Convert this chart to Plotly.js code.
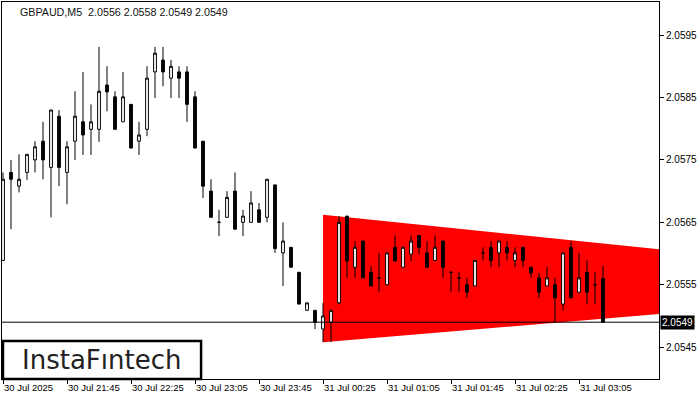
<!DOCTYPE html>
<html><head><meta charset="utf-8">
<script src="https://cdn.plot.ly/plotly-3.0.1.min.js"></script>
<style>html,body{margin:0;padding:0;background:#fff}#chart{width:700px;height:400px}</style>
</head><body><div id="chart"></div>
<script>
const headerText = "GBPAUD,M5\u00a0\u00a02.0556 2.0558 2.0549 2.0549";
const logoText = "InstaF\u0131ntech";
const lastPrice = 2.0549;
const lastPriceLabel = "2.0549";

const openP = [2.05589,2.05730,2.05708,2.05730,2.05750,2.05780,2.05738,2.05820,2.05730,2.05780,
2.05811,2.05799,2.05799,2.05870,2.05851,2.05811,2.05839,2.05780,2.05799,2.05891,
2.05910,2.05881,2.05891,2.05891,2.05851,2.05780,2.05700,2.05650,2.05658,2.05700,
2.05650,2.05650,2.05670,2.05658,2.05710,2.05601,2.05610,2.05570,2.05509,2.05509,
2.05479,2.05490,2.05521,2.05660,2.05578,2.05620,2.05570,2.05561,2.05550,2.05610,
2.05578,2.05599,2.05629,2.05601,2.05589,2.05620,2.05570,2.05561,2.05550,2.05548,
2.05601,2.05610,2.05601,2.05610,2.05589,2.05610,2.05578,2.05561,2.05548,2.05550,
2.05519,2.05610,2.05538,2.05570,2.05550,2.0556];
const highP = [2.05730,2.05750,2.05759,2.05759,2.05780,2.05811,2.05830,2.05830,2.05780,2.05860,
2.05891,2.05839,2.05931,2.05900,2.05860,2.05891,2.05839,2.05811,2.05900,2.05931,
2.05931,2.05910,2.05900,2.05900,2.05860,2.05780,2.05719,2.05670,2.05700,2.05730,
2.05670,2.05700,2.05681,2.05719,2.05710,2.05650,2.05610,2.05570,2.05521,2.05509,
2.05521,2.05509,2.05660,2.05660,2.05620,2.05620,2.05580,2.05601,2.05601,2.05629,
2.05610,2.05629,2.05629,2.05620,2.05629,2.05620,2.05570,2.05570,2.05561,2.05589,
2.05610,2.05620,2.05620,2.05620,2.05610,2.05610,2.05578,2.05569,2.05578,2.05561,
2.05601,2.05620,2.05601,2.05589,2.05570,2.0558];
const lowP = [2.05588,2.05639,2.05698,2.05718,2.05730,2.05719,2.05658,2.05708,2.05679,2.05750,
2.05758,2.05758,2.05779,2.05828,2.05799,2.05811,2.05769,2.05758,2.05788,2.05849,
2.05868,2.05849,2.05849,2.05811,2.05769,2.05689,2.05658,2.05628,2.05658,2.05639,
2.05628,2.05650,2.05650,2.05650,2.05601,2.05548,2.05578,2.05519,2.05509,2.05479,
2.05458,2.05458,2.05519,2.05561,2.05561,2.05561,2.05548,2.05538,2.05550,2.05588,
2.05578,2.05588,2.05599,2.05578,2.05589,2.05561,2.05538,2.05538,2.05529,2.05548,
2.05589,2.05578,2.05578,2.05589,2.05578,2.05578,2.05561,2.05529,2.05548,2.05490,
2.05509,2.05529,2.05538,2.05519,2.05519,2.0549];
const closeP = [2.05719,2.05719,2.05719,2.05759,2.05771,2.05750,2.05830,2.05738,2.05771,2.05820,
2.05790,2.05811,2.05860,2.05859,2.05799,2.05851,2.05769,2.05790,2.05881,2.05921,
2.05891,2.05900,2.05881,2.05839,2.05769,2.05708,2.05658,2.05650,2.05690,2.05639,
2.05660,2.05681,2.05650,2.05719,2.05608,2.05620,2.05578,2.05519,2.05521,2.05490,
2.05500,2.05509,2.05650,2.05588,2.05610,2.05561,2.05548,2.05561,2.05601,2.05588,
2.05610,2.05620,2.05610,2.05578,2.05610,2.05578,2.05570,2.05561,2.05538,2.05589,
2.05601,2.05589,2.05620,2.05601,2.05601,2.05589,2.05569,2.05538,2.05561,2.05529,
2.05601,2.05529,2.05561,2.05538,2.05550,2.0549];

const triTime = ["2025-07-31 00:25","2025-07-31 03:55","2025-07-31 03:55","2025-07-31 00:25"];
const triPrice = [2.05662,2.05607,2.05503,2.05458];

const tickTimes = ["2025-07-30 21:05","2025-07-30 21:45","2025-07-30 22:25","2025-07-30 23:05","2025-07-30 23:45",
"2025-07-31 00:25","2025-07-31 01:05","2025-07-31 01:45","2025-07-31 02:25","2025-07-31 03:05"];
const tickLabels = ["30 Jul 2025","30 Jul 21:45","30 Jul 22:25","30 Jul 23:05","30 Jul 23:45",
"31 Jul 00:25","31 Jul 01:05","31 Jul 01:45","31 Jul 02:25","31 Jul 03:05"];
const priceTicks = [2.0545,2.0555,2.0565,2.0575,2.0585,2.0595];

function barTime(i){
  const d = new Date(Date.UTC(2025,6,30,21,5) + i*5*60000);
  return d.toISOString().slice(0,16).replace('T',' ');
}
const times = openP.map((_,i)=>barTime(i));

// triangle path in data coordinates (dates use '_' instead of space inside a path)
const triPath = triTime.map((t,i)=>(i===0?'M':'L') + t.replace(' ','_') + ',' + triPrice[i]).join(' ') + ' Z';

const font = {family:"Liberation Sans, Arial, sans-serif", size:10, color:"#000"};
const xFont = {family:"Liberation Sans, Arial, sans-serif", size:9.5, color:"#000"};

const traces = [
  {type:'candlestick', x:times, open:openP, high:highP, low:lowP, close:closeP,
   increasing:{fillcolor:'#ffffff', line:{color:'#000000', width:1}},
   decreasing:{fillcolor:'#000000', line:{color:'#000000', width:1}},
   whiskerwidth:0, hoverinfo:'skip'}
];

const layout = {
  width:700, height:400,
  margin:{l:2, r:41, t:2, b:21},
  paper_bgcolor:'#ffffff', plot_bgcolor:'#ffffff',
  showlegend:false, boxgap:0.5,
  font:font,
  xaxis:{type:'date', range:["2025-07-30 21:04:22","2025-07-31 03:55"],
    tickmode:'array', tickvals:tickTimes, ticktext:tickLabels,
    ticks:'outside', ticklen:4, tickcolor:'#000', ticklabelposition:'outside right',
    showgrid:false, zeroline:false, showline:true, mirror:true, linecolor:'#000', linewidth:1,
    rangeslider:{visible:false}, tickfont:xFont, fixedrange:true},
  yaxis:{side:'right', range:[2.05399,2.06003], tickmode:'array', tickvals:priceTicks,
    tickformat:'.4f', ticks:'outside', ticklen:4, tickcolor:'#000',
    showgrid:false, zeroline:false, showline:true, mirror:true, linecolor:'#000', linewidth:1,
    tickfont:font, fixedrange:true},
  shapes:[
    {type:'path', xref:'x', yref:'y', path:triPath, fillcolor:'#ff0000', line:{width:0}, layer:'below'},
    {type:'line', xref:'paper', yref:'y', x0:0, x1:1, y0:lastPrice, y1:lastPrice,
     line:{color:'#000', width:1}},
    {type:'rect', xref:'paper', yref:'paper', x0:0.0015, x1:0.303, y0:0, y1:0.1008,
     line:{color:'#000', width:2.5}, fillcolor:'#ffffff', layer:'above'}
  ],
  annotations:[
    {text:headerText, xref:'paper', yref:'paper', x:0.0244, y:0.973, xanchor:'left', yanchor:'middle',
     showarrow:false, font:{family:font.family, size:10.7, color:'#111'}},
    {text:logoText, xref:'paper', yref:'paper', x:0.152, y:0.05, xanchor:'center', yanchor:'middle',
     showarrow:false, font:{family:"DejaVu Sans, sans-serif", size:26, color:'#222'}},
    {text:lastPriceLabel, xref:'paper', yref:'y', x:1, y:lastPrice, xanchor:'left', yanchor:'middle',
     xshift:1, showarrow:false, bgcolor:'#000', borderpad:1, font:{family:font.family, size:10, color:'#fff'}}
  ]
};

Plotly.newPlot('chart', traces, layout, {staticPlot:true, displayModeBar:false});
</script>
</body></html>
